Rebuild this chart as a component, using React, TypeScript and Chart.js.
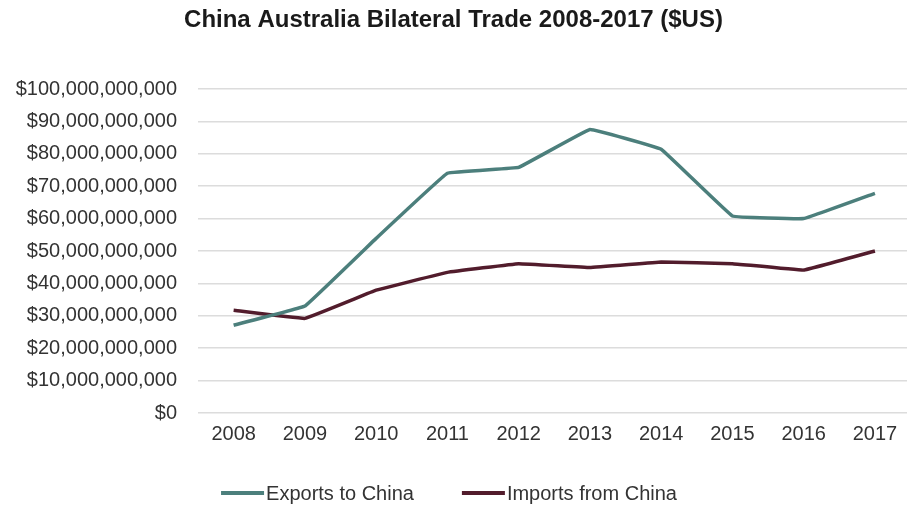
import React, { useEffect, useRef } from "react";
import { Chart, registerables } from "chart.js";

Chart.register(...registerables);

const years = ["2008", "2009", "2010", "2011", "2012", "2013", "2014", "2015", "2016", "2017"];
const exportsToChina = [27.1e9, 33.0e9, 53.9e9, 74.0e9, 75.8e9, 87.5e9, 81.4e9, 60.8e9, 60.0e9, 67.8e9];
const importsFromChina = [31.7e9, 29.2e9, 37.9e9, 43.4e9, 46.1e9, 44.9e9, 46.6e9, 46.1e9, 44.1e9, 50.0e9];
const seriesLabels = ["Exports to China", "Imports from China"];
const seriesColors = ["#4c7f7c", "#521c2c"];

const FONT = "'Liberation Sans', Arial, Helvetica, sans-serif";
const TEXT = "#333333";

const legendPlugin = {
  id: "customLegend",
  afterDraw(chart: any) {
    const ctx = chart.ctx;
    ctx.save();
    ctx.font = `20px ${FONT}`;
    ctx.textBaseline = "middle";
    const lineLen = 43;
    const gapText = 2;
    const gapItems = 48;
    const items = chart.data.datasets.map((d: any) => ({
      label: d.label,
      color: d.borderColor,
      w: lineLen + gapText + ctx.measureText(d.label).width,
    }));
    const total = items.reduce((s: number, it: any) => s + it.w, 0) + gapItems * (items.length - 1);
    let x = 449 - total / 2;
    const y = 493;
    for (const it of items) {
      ctx.strokeStyle = it.color;
      ctx.lineWidth = 4;
      ctx.lineCap = "butt";
      ctx.beginPath();
      ctx.moveTo(x, y);
      ctx.lineTo(x + lineLen, y);
      ctx.stroke();
      ctx.fillStyle = TEXT;
      ctx.textAlign = "left";
      ctx.fillText(it.label, x + lineLen + gapText, y + 1);
      x += it.w + gapItems;
    }
    ctx.restore();
  },
};

export default function App() {
  const ref = useRef<HTMLCanvasElement | null>(null);
  useEffect(() => {
    document.body.style.margin = "0";
    const chart = new Chart(ref.current as HTMLCanvasElement, {
      type: "line",
      data: {
        datasets: [
          {
            label: seriesLabels[0],
            data: exportsToChina.map((v, i) => ({ x: i, y: v })),
            borderColor: seriesColors[0],
            backgroundColor: seriesColors[0],
            borderWidth: 3.5,
            pointRadius: 0,
            tension: 0.05,
            borderJoinStyle: "round",
          },
          {
            label: seriesLabels[1],
            data: importsFromChina.map((v, i) => ({ x: i, y: v })),
            borderColor: seriesColors[1],
            backgroundColor: seriesColors[1],
            borderWidth: 3.5,
            pointRadius: 0,
            tension: 0.05,
            borderJoinStyle: "round",
          },
        ],
      },
      options: {
        animation: false,
        responsive: false,
        maintainAspectRatio: false,
        layout: { padding: { left: 0, right: 0, top: 0, bottom: 53 } },
        plugins: {
          legend: { display: false },
          tooltip: { enabled: false },
          title: {
            display: true,
            text: "China Australia Bilateral Trade 2008-2017 ($US)",
            color: "#1a1a1a",
            font: { family: FONT, size: 24, weight: "bold", lineHeight: 1.2 },
            padding: { top: 6, bottom: 54.2 },
          },
        },
        scales: {
          x: {
            type: "linear",
            min: -0.5,
            max: 9.45,
            afterBuildTicks: (scale: any) => {
              scale.ticks = years.map((_, i) => ({ value: i }));
            },
            afterFit: (scale: any) => {
              scale.height = 40;
            },
            grid: { display: false, drawTicks: false },
            border: { display: false },
            ticks: {
              autoSkip: false,
              maxRotation: 0,
              padding: 9,
              color: TEXT,
              font: { family: FONT, size: 20 },
              callback: (v: any) => years[v as number] ?? "",
            },
          },
          y: {
            min: 0,
            max: 100e9,
            afterFit: (scale: any) => {
              scale.width = 198;
            },
            grid: { color: "#dcdcdc", lineWidth: 1.5, drawTicks: false },
            border: { display: false },
            ticks: {
              stepSize: 10e9,
              padding: 21,
              color: TEXT,
              font: { family: FONT, size: 20 },
              callback: (v: any) => "$" + Number(v).toLocaleString("en-US"),
            },
          },
        },
      },
      plugins: [legendPlugin],
    } as any);
    return () => chart.destroy();
  }, []);
  return (
    <div style={{ position: "fixed", left: 0, top: 0, width: 907, height: 506, background: "#fff" }}>
      <canvas ref={ref} width={907} height={506} style={{ width: 907, height: 506, display: "block" }} />
    </div>
  );
}
